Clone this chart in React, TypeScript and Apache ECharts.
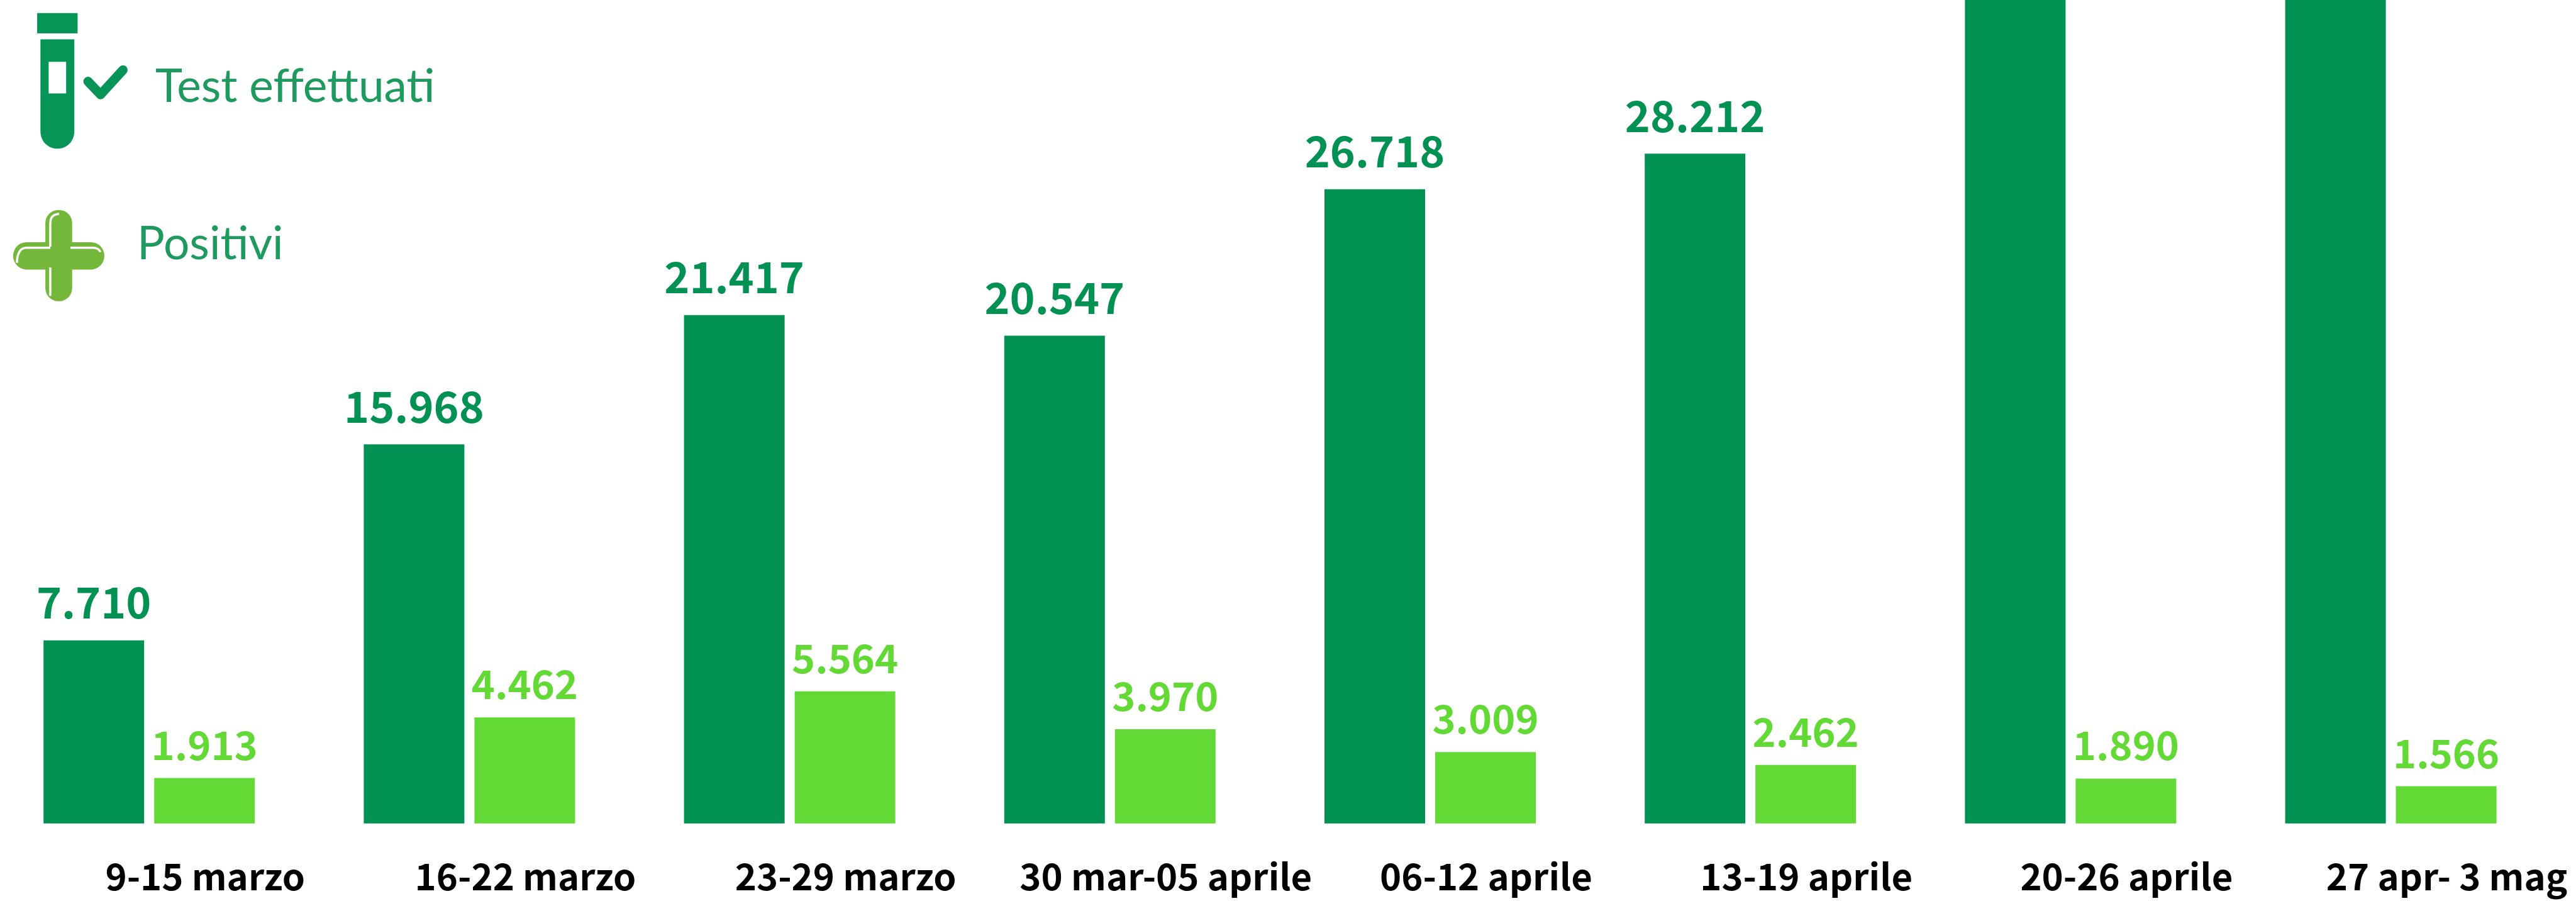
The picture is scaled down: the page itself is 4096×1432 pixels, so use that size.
import React, { useEffect, useRef } from "react";
import * as echarts from "echarts";

const categories = ["9-15 marzo", "16-22 marzo", "23-29 marzo", "30 mar-05 aprile", "06-12 aprile", "13-19 aprile", "20-26 aprile", "27 apr- 3 mag"];
// The last two test bars run off the top of the picture: their values are estimates.
const testEffettuati = [7710, 15968, 21417, 20547, 26718, 28212, 38000, 39500];
const positivi = [1913, 4462, 5564, 3970, 3009, 2462, 1890, 1566];
const legendLabels = ["Test effettuati", "Positivi"];

const DARK = "#009153";
const LIGHT = "#63d936";
const S = 0.869;
const FONT = '"Noto Sans CJK SC", "Noto Sans", sans-serif';
const OFF_PICTURE_FROM = 34000;

const fmt = (v: number) => String(v).replace(/\B(?=(\d{3})+$)/g, ".");

echarts.graphic.registerShape("tubeBody", echarts.graphic.extendPath("M74 72 L136 72 L136 240 C136 259 122 272 105 272 C88 272 74 259 74 240 Z", {}));
echarts.graphic.registerShape("plusGloss", echarts.graphic.extendPath(
  "M92 541 L92 489 M92 451 L92 411 C92 401 93 393 108 391 M92 453 L48 453 C36 453 31 466 31 481 M129 453 L170 453 C178 453 182 457 184 461", {}));

export default function App() {
  const ref = useRef<HTMLDivElement>(null);
  useEffect(() => {
    const chart = echarts.init(ref.current!, undefined, { renderer: "svg" });
    const scaled = (o: any) => ({ ...o, scaleX: S, scaleY: S, x: 0, y: 0 });
    chart.setOption({
      animation: false,
      backgroundColor: "#ffffff",
      grid: { left: -17.4, width: 4073.6, top: -300, height: 1608.7, outerBoundsMode: "none" },
      xAxis: {
        type: "category",
        data: categories,
        axisLine: { show: false },
        axisTick: { show: false },
        axisLabel: {
          color: "#000000",
          fontFamily: FONT,
          fontWeight: 700,
          fontSize: 58,
          margin: 52,
          interval: 0,
          padding: [0, 0, 0, 178],
        },
      },
      yAxis: { type: "value", min: 0, max: 42640, show: false },
      series: [
        {
          name: legendLabels[0],
          type: "bar",
          data: testEffettuati.map((v) => (v > OFF_PICTURE_FROM ? { value: v, label: { show: false } } : v)),
          barWidth: 160,
          barGap: "10%",
          itemStyle: { color: DARK },
          label: { show: true, position: "top", distance: 30, color: DARK, fontFamily: FONT, fontWeight: 700, fontSize: 68, formatter: (p: any) => fmt(p.value) },
        },
        {
          name: legendLabels[1],
          type: "bar",
          data: positivi,
          barWidth: 160,
          itemStyle: { color: LIGHT },
          label: { show: true, position: "top", distance: 25, color: LIGHT, fontFamily: FONT, fontWeight: 600, fontSize: 63, formatter: (p: any) => fmt(p.value) },
        },
      ],
      graphic: [
        scaled({ type: "group", children: [
          { type: "rect", shape: { x: 68, y: 24, width: 74, height: 37 }, style: { fill: "#079457" } },
          { type: "tubeBody", style: { fill: "#079457" } },
          { type: "rect", shape: { x: 89, y: 113, width: 32, height: 58 }, style: { fill: "#ffffff" } },
          { type: "polyline", shape: { points: [[161, 149], [184, 173], [225, 128]] }, style: { stroke: "#079457", lineWidth: 17, fill: "none", lineCap: "round", lineJoin: "round" } },
          { type: "rect", shape: { x: 83, y: 384, width: 49, height: 167, r: 24 }, style: { fill: "#74b73b" } },
          { type: "rect", shape: { x: 24, y: 443, width: 167, height: 50, r: 25 }, style: { fill: "#74b73b" } },
          { type: "plusGloss", style: { fill: "none", stroke: "#ffffff", lineWidth: 4 } },
        ] }),
        { type: "text", x: 247, y: 170, style: { text: legendLabels[0], fill: "#1f9a5f", font: '400 73px Lato', verticalAlign: "bottom" } },
        { type: "text", x: 218, y: 420, style: { text: legendLabels[1], fill: "#1f9a5f", font: '400 73px Lato', verticalAlign: "bottom" } },
      ],
    });
    return () => chart.dispose();
  }, []);
  return <div ref={ref} style={{ position: "fixed", left: 0, top: 0, width: 4096, height: 1432, fontVariantLigatures: "none" }} />;
}
